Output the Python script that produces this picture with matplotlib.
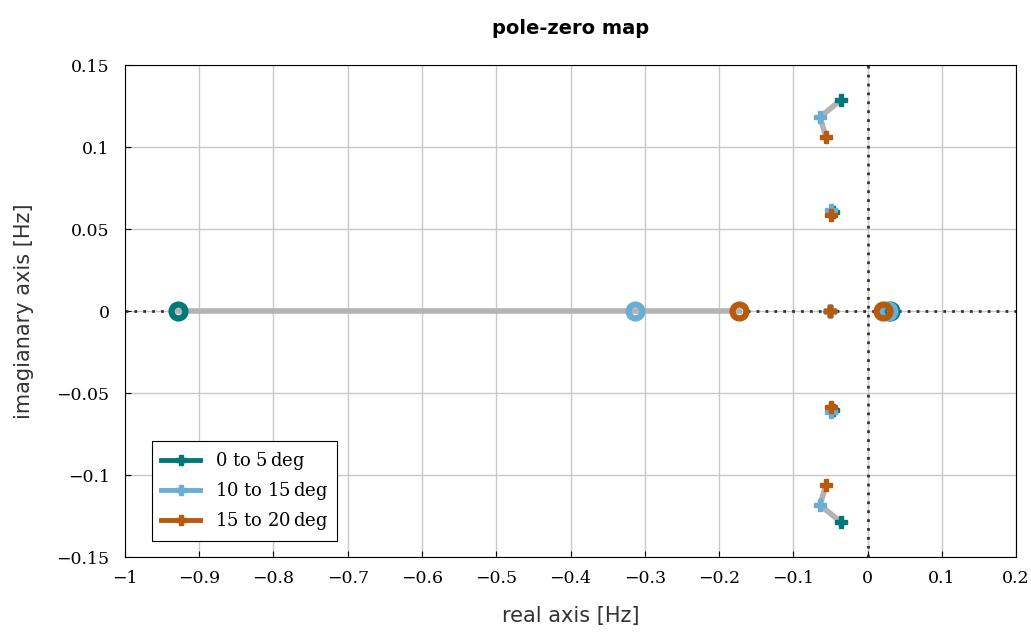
import numpy as np
import matplotlib.pyplot as plt
from matplotlib.lines import Line2D

labels = ['0 to 5$\\,$deg', '10 to 15$\\,$deg', '15 to 20$\\,$deg']
colors = ['#00787a', '#6aaed6', '#b85a0d']

# poles (upper half only, conjugates are mirrored) and zeros per angle range
pole_re = [[-0.0357, -0.0465, -0.0505],
           [-0.0640, -0.0490, -0.0505],
           [-0.0559, -0.0490, -0.0505]]
pole_im = [[0.1287, 0.0604, 0.0],
           [0.1183, 0.0616, 0.0],
           [0.1060, 0.0585, 0.0]]
zero_re = [[-0.9286, 0.0300],
           [-0.3131, 0.0276],
           [-0.1730, 0.0210]]
zero_im = [[0.0, 0.0],
           [0.0, 0.0],
           [0.0, 0.0]]

plt.rcParams['font.family'] = 'DejaVu Serif'
plt.rcParams['mathtext.fontset'] = 'dejavuserif'

fig = plt.figure(figsize=(10.31, 6.33), dpi=100)
ax = fig.add_axes([0.1212, 0.12, 0.8643, 0.7773])

ax.axhline(0, color='#333333', ls=(0, (1, 2.2)), lw=2, zorder=2)
ax.axvline(0, color='#333333', ls=(0, (1, 2.2)), lw=2, zorder=2)

pr = np.array(pole_re)
pi = np.array(pole_im)
zr = np.array(zero_re)
zi = np.array(zero_im)

# gray trajectories of each root across the angle ranges
for k in range(pr.shape[1]):
    ax.plot(pr[:, k], pi[:, k], color='#b3b3b3', lw=4, zorder=3)
    ax.plot(pr[:, k], -pi[:, k], color='#b3b3b3', lw=4, zorder=3)
for k in range(zr.shape[1]):
    ax.plot(zr[:, k], zi[:, k], color='#b3b3b3', lw=4, zorder=3)

for i, c in enumerate(colors):
    re = np.concatenate([pr[i], pr[i]])
    im = np.concatenate([pi[i], -pi[i]])
    ax.plot(re, im, ls='none', marker='P', ms=9, color=c, mec=c, zorder=5 + i)
    ax.plot(zr[i], zi[i], ls='none', marker='o', ms=10, mfc='none', mec=c,
            mew=4.5, zorder=5 + i)

ax.set_xlim(-1, 0.2)
ax.set_ylim(-0.15, 0.15)
ax.set_xticks(np.arange(-1, 0.21, 0.1))
ax.set_yticks(np.arange(-0.15, 0.151, 0.05))
xt = ['\u22121'] + ['\u2212%g' % (-round(v, 2)) for v in np.arange(-0.9, -0.05, 0.1)] + ['0', '0.1', '0.2']
yt = ['\u22120.15', '\u22120.1', '\u22120.05', '0', '0.05', '0.1', '0.15']
ax.set_xticklabels(xt)
ax.set_yticklabels(yt)
ax.tick_params(direction='in', labelsize=12.5, length=4)
ax.tick_params(axis='x', pad=9)
ax.tick_params(axis='y', pad=11)
ax.grid(color='#c8c8c8', lw=1)
ax.set_axisbelow(True)

ax.set_xlabel('real axis [Hz]', family='DejaVu Sans', fontsize=15, color='#333333', labelpad=14)
ax.set_ylabel('imagianary axis [Hz]', family='DejaVu Sans', fontsize=15, color='#333333', labelpad=16)
ax.set_title('pole-zero map', family='DejaVu Sans', fontweight='bold', fontsize=14, pad=22)

handles = [Line2D([], [], color=c, lw=3.5, marker='P', ms=7) for c in colors]
leg = ax.legend(handles, labels, loc='lower left', bbox_to_anchor=(0.03, 0.032),
                borderaxespad=0, fontsize=13, fancybox=False, edgecolor='black',
                framealpha=1, handlelength=2.2, borderpad=0.5, labelspacing=0.45)
leg.get_frame().set_linewidth(0.8)

fig.savefig('out.png', dpi=100)
